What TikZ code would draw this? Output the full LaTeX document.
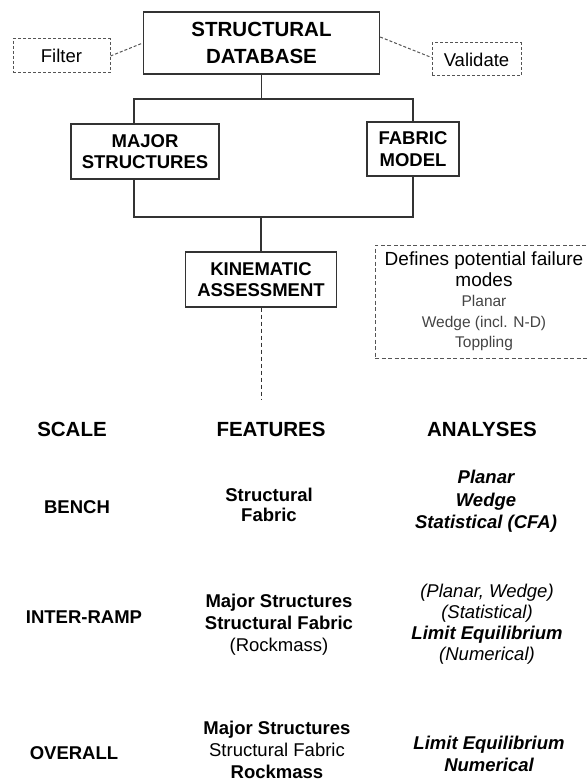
\documentclass[tikz,border=0pt]{standalone}
\usepackage{fontspec}
\setmainfont{Liberation Sans}
\newcommand\fsz[2]{\fontsize{#1}{#2}\selectfont}
\definecolor{lnc}{HTML}{333333}
\definecolor{dsc}{HTML}{555555}
\definecolor{txg}{HTML}{444444}
\begin{document}
\begin{tikzpicture}[x=1pt,y=-1pt,
 solidbox/.style={draw=lnc,line width=1.3pt,inner sep=0pt,align=center,font=\bfseries\fsz{18.5}{21.5}},
 dashbox/.style={draw=dsc,line width=1pt,dash pattern=on 3pt off 2pt,inner sep=0pt,align=center,font=\fsz{18.5}{21}},
 conn/.style={draw=lnc,line width=1.2pt},
 dconn/.style={draw=dsc,line width=1pt,dash pattern=on 3pt off 2pt},
 hdr/.style={inner sep=0pt,font=\bfseries\fsz{20.5}{24}},
 scl/.style={inner sep=0pt,font=\bfseries\fsz{18.5}{22}},
 col/.style={align=center,inner sep=0pt}]
\useasboundingbox (0,0) rectangle (588,781);
\clip (0,0) rectangle (588,781);
% boxes
\node[solidbox,font=\bfseries\fsz{20.5}{27},minimum width=236pt,minimum height=62pt] (db) at (261.5,43) {STRUCTURAL\\DATABASE};
\node[dashbox,minimum width=97pt,minimum height=34pt] (filter) at (61.5,56) {Filter};
\node[dashbox,minimum width=89pt,minimum height=33pt] (valid) at (476.5,59.5) {Validate};
\node[solidbox,minimum width=148pt,minimum height=55pt] (ms) at (145,151.5) {MAJOR\\STRUCTURES};
\node[solidbox,minimum width=92pt,minimum height=54pt] (fm) at (413,149) {FABRIC\\MODEL};
\node[solidbox,minimum width=151pt,minimum height=55pt] (ka) at (261,279.5) {KINEMATIC\\ASSESSMENT};
\node[dashbox,dash pattern=on 4pt off 2.5pt,minimum width=218pt,minimum height=113pt,font=\fsz{19}{20.5}] (modes) at (484,301.5)
  {Defines potential failure\\modes\\{\color{txg}\fsz{15.5}{20.5}Planar}\\{\color{txg}\fsz{15.5}{20.5}Wedge (incl. N-D)}\\{\color{txg}\fsz{15.5}{20.5}Toppling}};
% connectors
\draw[dconn] (filter.east) -- (db.west);
\draw[dconn] ([yshift=6pt]db.east) -- ([yshift=2pt]valid.west);
\coordinate (tl) at (134,99);
\coordinate (tr) at (413,99);
\draw[conn] (db.south) -- (db.south |- tl);
\draw[conn] (tl |- ms.north) -- (tl) -- (tr) -- (fm.north);
\coordinate (bl) at (134,217);
\coordinate (br) at (413,217);
\draw[conn] (bl |- ms.south) -- (bl) -- (br) -- (fm.south);
\draw[conn] (ka.north) -- (ka.north |- bl);
\coordinate (kend) at (261,400);
\draw[dconn,draw=lnc,dash pattern=on 4pt off 3pt] (ka.south) -- (kend);
% table
\node[hdr] (hscale) at (72,429) {SCALE};
\node[hdr] (hfeat) at (271,429) {FEATURES};
\node[hdr] (hanal) at (482,429) {ANALYSES};
\node[scl] (bench) at (77,507) {BENCH};
\node[col,font=\bfseries\fsz{18.5}{20.5}] (f1) at (269,505) {Structural\\Fabric};
\node[col,font=\bfseries\itshape\fsz{18.5}{22.5}] (a1) at (486,501.5) {Planar\\Wedge\\Statistical (CFA)};
\node[scl] (iramp) at (84,617) {INTER-RAMP};
\node[col,font=\fsz{18.5}{22}] (f2) at (279,625) {\textbf{Major Structures}\\\textbf{Structural Fabric}\\(Rockmass)};
\node[col,font=\itshape\fsz{18.5}{21}] (a2) at (487,624.5) {(Planar, Wedge)\\(Statistical)\\\textbf{Limit Equilibrium}\\(Numerical)};
\node[scl] (overall) at (74,753) {OVERALL};
\node[col,font=\fsz{18.5}{22}] (f3) at (277,750) {\textbf{Major Structures}\\Structural Fabric\\\textbf{Rockmass}};
\node[col,font=\bfseries\itshape\fsz{18.5}{22}] (a3) at (489,754) {Limit Equilibrium\\Numerical};
\end{tikzpicture}
\end{document}
